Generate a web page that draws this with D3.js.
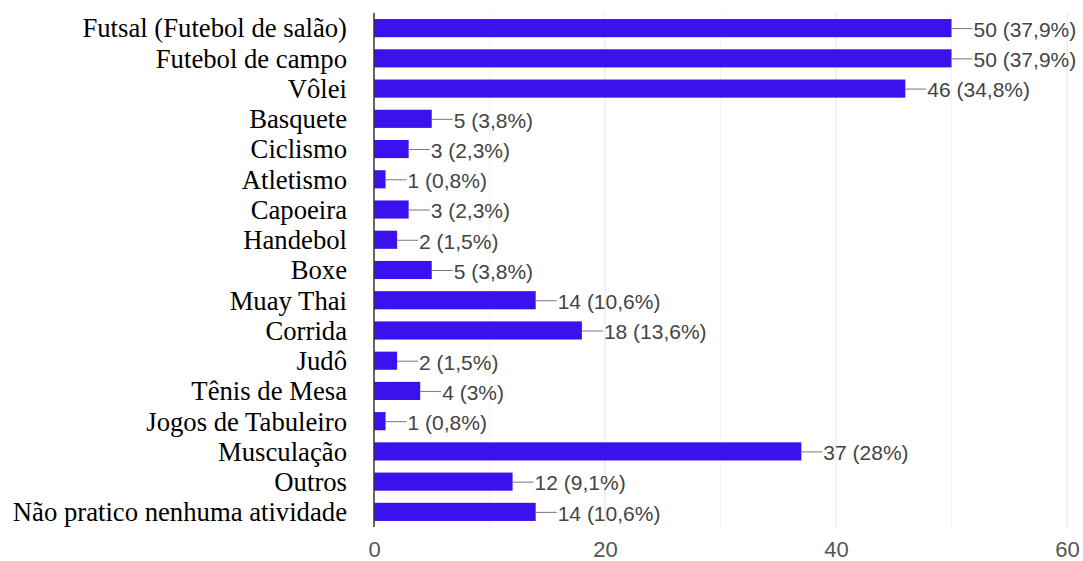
<!DOCTYPE html>
<html>
<head>
<meta charset="utf-8">
<script src="https://cdn.jsdelivr.net/npm/d3@7"></script>
<style>
  html, body { margin: 0; padding: 0; background: #fff; }
  svg { display: block; }
</style>
</head>
<body>
<svg id="chart" width="1083" height="561"></svg>
<script>
const categories = [
  "Futsal (Futebol de salão)", "Futebol de campo", "Vôlei", "Basquete", "Ciclismo",
  "Atletismo", "Capoeira", "Handebol", "Boxe", "Muay Thai", "Corrida", "Judô",
  "Tênis de Mesa", "Jogos de Tabuleiro", "Musculação", "Outros", "Não pratico nenhuma atividade"
];
const counts = [50, 50, 46, 5, 3, 1, 3, 2, 5, 14, 18, 2, 4, 1, 37, 12, 14];
const percents = ["37,9%", "37,9%", "34,8%", "3,8%", "2,3%", "0,8%", "2,3%", "1,5%", "3,8%",
  "10,6%", "13,6%", "1,5%", "3%", "0,8%", "28%", "9,1%", "10,6%"];
const tickValues = [0, 20, 40, 60];
const minorTicks = [10, 30, 50];

const data = categories.map((c, i) => ({ cat: c, v: counts[i], p: percents[i] }));

const svg = d3.select("#chart");
const plotLeft = 374, plotRight = 1067, plotTop = 13, plotBottom = 527;

const x = d3.scaleLinear().domain([0, 60]).range([plotLeft, plotRight]);
const y = d3.scaleBand().domain(categories).range([plotTop, plotBottom]).paddingInner(0.4).paddingOuter(0.2);

// minor gridlines
svg.append("g").selectAll("line").data(minorTicks).join("line")
  .attr("x1", d => x(d)).attr("x2", d => x(d))
  .attr("y1", plotTop).attr("y2", plotBottom)
  .attr("stroke", "#f3f3f3").attr("stroke-width", 1);

// major gridlines
svg.append("g").selectAll("line").data(tickValues.filter(d => d > 0)).join("line")
  .attr("x1", d => x(d)).attr("x2", d => x(d))
  .attr("y1", plotTop).attr("y2", plotBottom)
  .attr("stroke", "#e4e4e4").attr("stroke-width", 1);

// bars
svg.append("g").selectAll("rect").data(data).join("rect")
  .attr("x", x(0))
  .attr("y", d => y(d.cat))
  .attr("width", d => x(d.v) - x(0))
  .attr("height", y.bandwidth())
  .attr("fill", "#3b12ee");

// leader lines
svg.append("g").selectAll("line").data(data).join("line")
  .attr("x1", d => x(d.v)).attr("x2", d => x(d.v) + 21)
  .attr("y1", d => y(d.cat) + y.bandwidth() / 2 + 0.5)
  .attr("y2", d => y(d.cat) + y.bandwidth() / 2 + 0.5)
  .attr("stroke", "#777").attr("stroke-width", 1);

// value labels
svg.append("g").selectAll("text").data(data).join("text")
  .attr("x", d => x(d.v) + 22)
  .attr("y", d => y(d.cat) + y.bandwidth() / 2 + 1.5)
  .attr("dy", "0.35em")
  .attr("font-family", "'Liberation Sans', Arial, sans-serif")
  .attr("font-size", 21)
  .attr("fill", "#444")
  .text(d => `${d.v} (${d.p})`);

// category labels
svg.append("g").selectAll("text").data(data).join("text")
  .attr("x", 347)
  .attr("y", d => y(d.cat) + y.bandwidth() / 2)
  .attr("dy", "0.35em")
  .attr("text-anchor", "end")
  .attr("font-family", "'Liberation Serif', 'Times New Roman', serif")
  .attr("font-size", 26.7)
  .attr("fill", "#000")
  .text(d => d.cat);

// x axis tick labels
const xAxis = d3.axisBottom(x).tickValues(tickValues).tickSize(0).tickPadding(0).tickFormat(d3.format("d"));
const gx = svg.append("g").attr("transform", `translate(0,${plotBottom})`).call(xAxis);
gx.select(".domain").remove();
gx.selectAll("text")
  .attr("y", 22)
  .attr("dy", "0.35em")
  .attr("font-family", "'Liberation Sans', Arial, sans-serif")
  .attr("font-size", 22)
  .attr("fill", "#555");

// vertical baseline axis
svg.append("line")
  .attr("x1", x(0)).attr("x2", x(0))
  .attr("y1", plotTop).attr("y2", plotBottom)
  .attr("stroke", "#333").attr("stroke-width", 1.5);
</script>
</body>
</html>
